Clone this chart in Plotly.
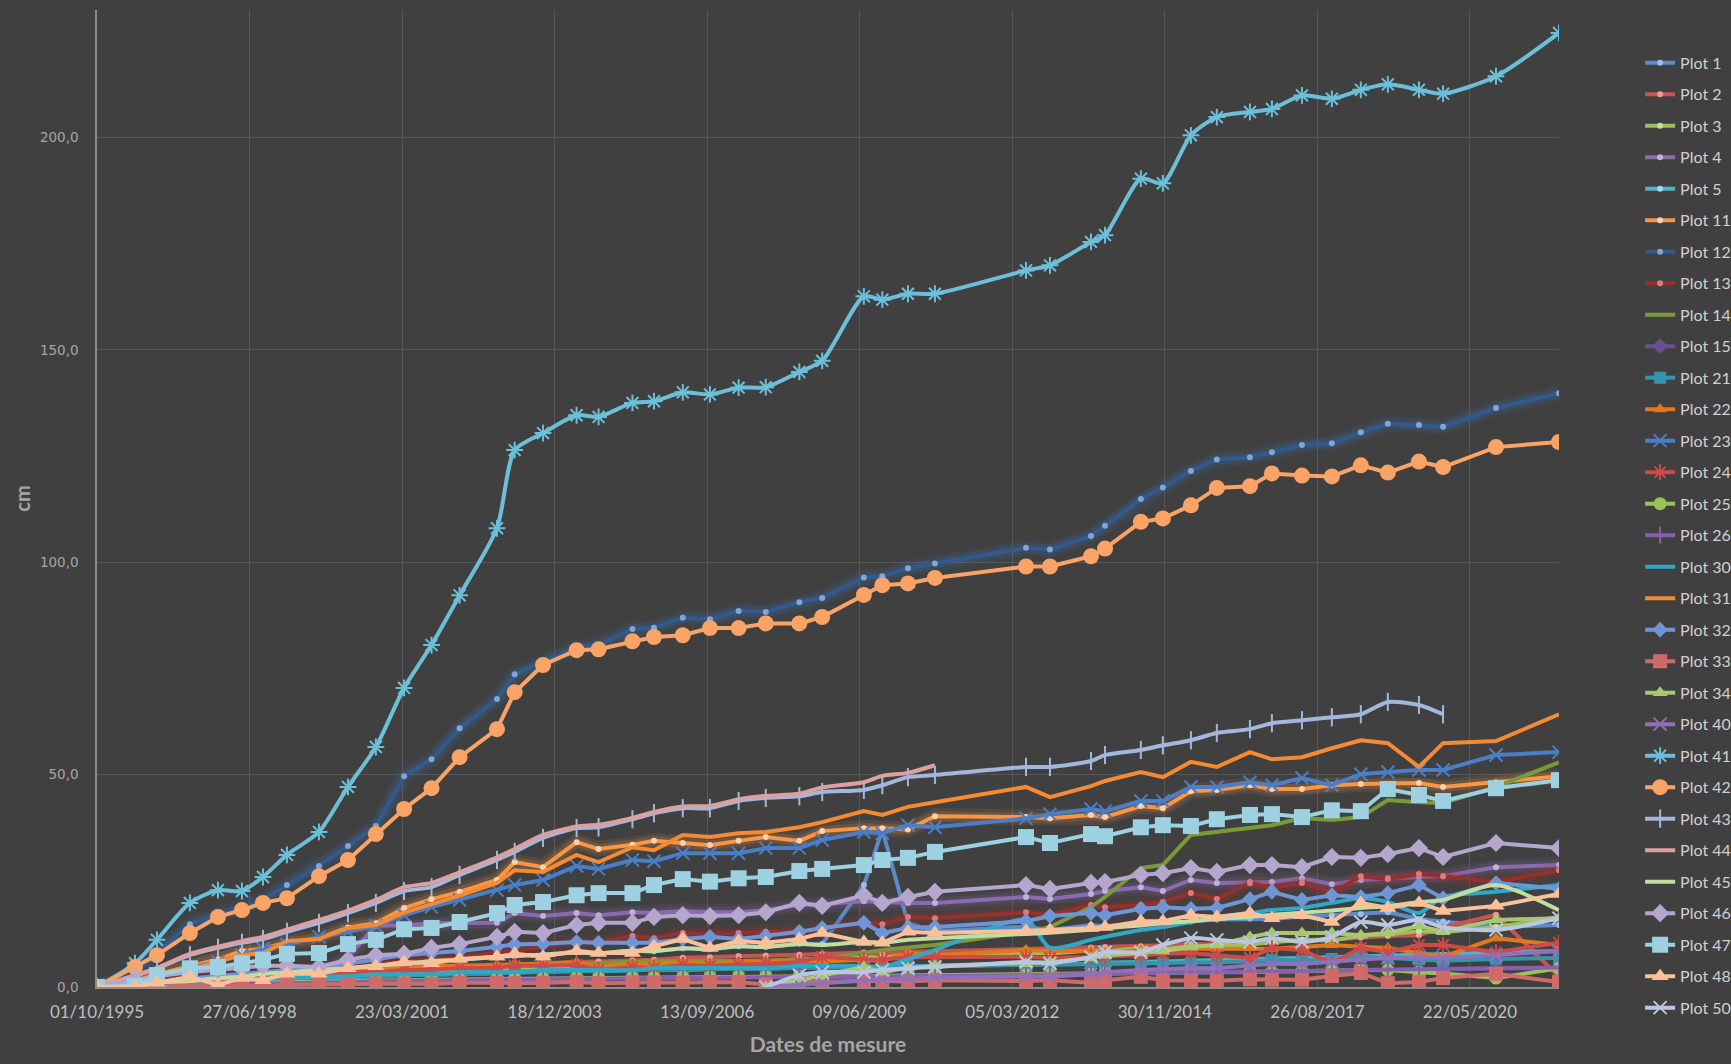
import plotly.graph_objects as go

# ---------------- data ----------------
dates = ["1995-10-01", "1996-06-06", "1996-10-28", "1997-06-01", "1997-12-02", "1998-05-08",
         "1998-09-23", "1999-02-27", "1999-09-25", "2000-04-02", "2000-10-02", "2001-04-05",
         "2001-10-02", "2002-04-04", "2002-12-05", "2003-03-31", "2003-10-03", "2004-05-10",
         "2004-10-01", "2005-05-11", "2005-09-29", "2006-04-06", "2006-10-01", "2007-04-07",
         "2007-10-02", "2008-05-09", "2008-10-06", "2009-07-06", "2009-11-04", "2010-04-21",
         "2010-10-15", "2012-06-03", "2012-11-07", "2013-08-03", "2013-11-03", "2014-06-26",
         "2014-11-17", "2015-05-20", "2015-11-06", "2016-06-10", "2016-11-01", "2017-05-17",
         "2017-11-29", "2018-06-07", "2018-12-01", "2019-06-23", "2019-11-28", "2020-11-09",
         "2021-12-27"]

tick_dates = ["1995-10-01", "1998-06-27", "2001-03-23", "2003-12-18", "2006-09-13",
              "2009-06-09", "2012-03-05", "2014-11-30", "2017-08-26", "2020-05-22"]
tick_labels = ["01/10/1995", "27/06/1998", "23/03/2001", "18/12/2003", "13/09/2006",
               "09/06/2009", "05/03/2012", "30/11/2014", "26/08/2017", "22/05/2020"]
y_ticks = [0, 50, 100, 150, 200]
y_tick_labels = ["0,0", "50,0", "100,0", "150,0", "200,0"]

N = None
plot_1 = [0, 0.5, 1.2, 1.6, 2.3, 2.6, 3.1, 3.8, 4.0, 4.6, 5.2, 5.4, 6.1, 6.5, 7.0, 7.2, 7.6, 8.1, 7.9,
          8.6, 8.4, 9.1, 8.9, 9.6, 9.4, 10.2, 10.1, 24.0, 37.0, 15.0, 13.1, 14.2, 13.4, 14.6, 14.3,
          15.1, 15.3, 15.4, 15.9, 16.1, 16.0, 16.6, 16.9, 17.1, 17.6, 16.0, 15.4, 14.1, 14.6]
plot_2 = [0, 0.6, 1.1, 1.4, 2.1, 2.4, 3.0, 3.3, 3.4, 3.9, 4.1, 4.2, 4.6, 4.7, 5.1, 5.3, 5.4, 5.9, 6.0,
          6.3, 6.4, 6.9, 7.0, 7.3, 7.4, 7.6, 7.8, 8.1, 7.9, 8.3, 8.4, 8.9, 9.0, 9.3, 9.4, 9.6, 9.8,
          10.1, 10.2, 10.6, 10.7, 11.1, 11.2, 11.6, 12.0, 12.2, 14.0, 17.0, 2.4]
plot_3 = [0, 0.4, 0.9, 1.1, 1.4, 2.0, 2.1, 2.4, 2.6, 3.1, 2.9, 3.6, 3.4, 4.1, 3.9, 4.6, 4.4, 5.1, 4.9,
          5.0, 5.6, 5.4, 6.1, 5.9, 6.0, 6.6, 6.4, 7.1, 6.9, 7.6, 7.4, 8.1, 7.9, 8.6, 8.4, 9.1, 8.9,
          9.6, 9.4, 10.1, 10.4, 11.1, 10.9, 12.1, 12.4, 13.1, 12.9, 14.1, 16.5]
plot_4 = [0, 0.5, 1.0, 1.5, 2.0, 2.0, 2.5, 3.0, 3.0, 7.0, 14.5, 14.5, 15.0, 15.0, 15.1, 17.4, 16.7,
          17.4, 16.9, 17.6, 17.4, 17.9, 17.6, 17.6, 18.1, 19.3, 19.5, 20.2, 20.0, 19.8, 19.8, 21.2,
          20.7, 21.9, 22.6, 23.5, 22.6, 25.2, 24.5, 24.7, 24.7, 25.6, 24.2, 25.2, 25.6, 25.9, 26.1,
          28.2, 28.7]
plot_5 = [0, 0.3, 0.6, 0.9, 1.2, 1.4, 1.7, 1.9, 2.2, 2.3, 2.5, 2.8, 2.9, 3.1, 3.2, 3.5, 3.6, 3.8,
          3.7, 3.9, 4.1, 4.0, 4.2, 4.4, 4.3, 4.5, 4.7, 4.6, 4.8, 5.0, 4.9, 5.2, 5.4, 5.5, 5.7, 5.8,
          6.0, 6.2, 6.4, 6.5, 6.7, 6.8, 7.0, 7.2, 7.4, 7.5, 7.6, 8.0, 8.5]
plot_11 = [0, 1.5, 3.0, 5.0, 6.5, 8.5, 9.0, 10.5, 11.5, 14.0, 15.0, 18.6, 20.7, 22.4, 25.2, 29.4,
           28.2, 34.1, 32.5, 33.5, 34.4, 33.9, 33.4, 34.4, 35.3, 34.4, 36.7, 37.4, 37.4, 37.1, 40.2,
           40.0, 39.7, 40.5, 40.0, 42.6, 42.1, 46.1, 46.4, 47.5, 46.6, 46.6, 47.5, 47.8, 47.8, 48.0,
           47.1, 48.2, 49.6]
plot_12 = [0, 3.0, 8.0, 14.8, 17.0, 18.5, 20.5, 24.0, 28.5, 33.2, 37.9, 49.6, 53.6, 60.9, 67.8, 73.6,
           76.5, 80.0, 80.5, 84.3, 84.6, 86.9, 86.6, 88.5, 88.3, 90.6, 91.6, 96.4, 96.7, 98.6, 99.7,
           103.4, 103.0, 106.2, 108.6, 114.9, 117.6, 121.5, 124.2, 124.7, 125.9, 127.6, 128.0, 130.6,
           132.6, 132.3, 131.9, 136.3, 139.8]
plot_13 = [0, 0.5, 1.0, 1.5, 2.0, 2.5, 3.0, 3.5, 4.0, 5.0, 5.5, 6.0, 6.5, 7.0, 8.0, 8.5, 9.5, 10.8,
           10.4, 12.0, 11.5, 12.7, 12.5, 12.7, 13.0, 13.0, 13.6, 15.3, 14.8, 16.5, 16.2, 17.6, 16.9,
           19.3, 18.8, 19.3, 20.0, 22.1, 20.7, 24.5, 23.3, 24.5, 22.1, 26.1, 25.4, 26.6, 26.1, 24.7,
           27.5]
plot_14 = [0, 0.5, 1.0, 1.5, 2.0, 2.5, 2.6, 3.0, 3.1, 3.5, 4.0, 4.1, 4.5, 4.6, 5.0, 5.1, 5.5, 5.5,
           5.6, 6.0, 6.1, 6.0, 6.2, 6.1, 6.3, 6.5, 6.6, 8.0, 8.7, 9.3, 9.9, 13.0, 14.1, 18.8, 21.2,
           28.0, 28.7, 35.8, 36.5, 37.6, 38.1, 39.8, 39.3, 40.0, 44.0, 43.5, 43.3, 47.1, 52.9]
plot_15 = [0, 0.2, 0.4, 0.6, 0.8, 1.0, 1.1, 1.2, 1.3, 1.4, 1.5, 1.6, 1.7, 1.8, 1.9, 2.0, 2.1, 2.1,
           2.0, 2.2, 2.3, 2.2, 2.4, 2.3, 2.5, 2.4, 2.6, 2.5, 2.7, 2.6, 2.8, 2.8, 2.9, 3.0, 3.1, 3.1,
           3.2, 3.3, 3.4, 3.5, 3.6, 3.7, 3.8, 3.9, 4.0, 4.1, 4.2, 4.3, 4.4]
plot_21 = [0, 0.3, 0.5, 0.8, 1.0, 1.2, 1.5, 1.8, 2.0, 2.2, 2.5, 2.8, 3.0, 3.0, 3.2, 3.5, 3.5, 3.8,
           3.8, 4.0, 4.1, 4.2, 4.2, 4.4, 4.4, 4.5, 4.6, 4.7, 4.7, 4.9, 5.0, 5.2, 5.2, 5.4, 5.4, 5.6,
           5.6, 5.6, 5.8, 6.0, 6.4, 6.2, 6.6, 7.1, 6.8, 6.5, 6.2, 6.6, 6.8]
plot_22 = [0, 0.5, 1.0, 1.5, 2.0, 2.5, 3.0, 3.5, 4.0, 4.0, 4.5, 4.5, 5.0, 5.0, 5.2, 5.5, 5.5, 5.9,
           4.7, 5.5, 5.5, 5.9, 5.5, 5.9, 5.9, 5.9, 6.0, 6.4, 6.2, 8.0, 7.5, 8.7, 8.5, 8.5, 8.0, 8.7,
           8.5, 9.0, 9.0, 9.2, 9.0, 9.4, 9.9, 9.5, 9.2, 8.0, 7.1, 11.5, 9.9]
plot_23 = [0, 1.2, 2.5, 4.5, 6.0, 7.5, 9.0, 10.0, 11.8, 13.0, 14.4, 16.9, 18.8, 20.5, 22.8, 24.0,
           25.2, 28.5, 27.8, 29.9, 29.6, 31.5, 31.5, 31.5, 32.7, 32.7, 34.6, 36.5, 36.2, 38.1, 37.6,
           39.7, 40.7, 41.9, 41.4, 43.8, 43.8, 47.1, 47.1, 48.2, 47.5, 49.2, 47.5, 50.1, 50.6, 51.1,
           51.1, 54.6, 55.3]
plot_24 = [0, 0.5, 1.0, 1.5, 2.0, 2.5, 2.5, 3.0, 3.0, 3.5, 3.5, 4.0, 4.0, 4.5, 4.5, 5.0, 5.0, 5.2,
           4.0, 4.7, 4.5, 5.2, 5.0, 5.2, 5.5, 5.9, 7.1, 6.5, 6.5, 7.0, 7.0, 7.1, 6.8, 7.1, 7.1, 7.5,
           7.8, 8.0, 7.5, 6.8, 9.2, 8.7, 5.6, 9.2, 8.2, 9.9, 9.9, 8.2, 10.4]
plot_25 = [0, 0.2, 0.4, 0.6, 0.8, 1.0, 1.0, 1.2, 1.2, 1.4, 1.5, 1.6, 1.7, 1.8, 1.9, 2.0, 2.0, 2.1,
           2.1, 2.2, 2.2, 2.3, 2.3, 2.4, 2.4, 2.5, 2.5, 2.6, 2.6, 2.7, 2.8, 2.9, 3.0, 3.0, 3.2, 3.3,
           3.3, 3.4, 3.5, 3.6, 3.6, 3.7, 3.8, 4.0, 4.0, 3.5, 3.2, 2.1, 4.4]
plot_26 = [0, 0.2, 0.3, 0.5, 0.6, 0.8, 0.9, 1.0, 1.1, 1.2, 1.3, 1.4, 1.5, 1.6, 1.7, 1.8, 1.9, 2.0,
           2.0, 2.1, 2.1, 2.2, 2.2, 2.3, 2.3, 2.4, 2.4, 2.5, 2.5, 2.6, 2.6, 2.8, 2.9, 3.0, 3.1, 3.2,
           3.3, 3.4, 3.5, 3.6, 3.7, 3.8, 3.9, 4.0, 4.1, 4.2, 4.3, 4.5, 4.6]
plot_30 = [0, 0.5, 1.0, 1.0, 1.5, 1.5, 2.0, 2.0, 2.5, 2.5, 3.0, 3.0, 3.0, 3.5, 3.5, 3.5, 4.0, 4.0,
           4.0, 4.0, 4.5, 4.5, 4.5, 4.5, 4.5, 5.0, 5.0, 5.0, 4.7, 6.5, 8.7, 15.8, 9.2, 11.1, 11.8,
           13.4, 14.1, 15.3, 16.5, 17.4, 18.1, 18.6, 19.8, 20.9, 20.0, 17.4, 21.2, 22.4, 24.0]
plot_31 = [0, 1.0, 2.5, 4.0, 6.0, 7.5, 8.0, 10.8, 11.3, 13.9, 14.6, 17.5, 19.5, 21.5, 24.5, 27.5,
           27.1, 31.1, 29.4, 32.9, 32.2, 35.8, 35.3, 36.2, 36.5, 37.6, 38.8, 41.4, 40.5, 42.4, 43.5,
           47.1, 44.7, 47.3, 48.5, 50.6, 49.4, 53.0, 51.8, 55.3, 53.6, 54.1, 56.2, 58.1, 57.4, 51.8,
           57.4, 57.9, 64.2]
plot_32 = [0, 0.5, 1.0, 2.0, 2.5, 3.0, 3.5, 4.0, 4.5, 5.5, 6.5, 7.5, 8.0, 8.5, 9.5, 10.0, 10.2, 10.6,
           10.4, 10.4, 10.4, 11.3, 11.8, 11.3, 12.0, 13.0, 13.9, 15.1, 12.7, 13.9, 14.1, 15.5, 16.7,
           17.4, 16.9, 18.4, 18.8, 18.4, 18.6, 20.7, 22.4, 20.5, 21.6, 21.2, 22.1, 24.0, 20.9, 24.5,
           23.1]
plot_33 = [0, 0, 0, 0.4, 0.1, 0.3, 0.2, 0.5, 0.6, 0.5, 0.8, 0.8, 0.7, 1.0, 1.0, 0.9, 1.0, 1.2, 0.9,
           1.1, 1.1, 1.0, 1.2, 1.1, 0.6, 1.3, 1.2, 1.5, 1.4, 1.3, 1.6, 1.4, 1.6, 1.0, 1.6, 2.4, 1.6,
           1.6, 1.5, 1.8, 1.7, 1.7, 2.6, 3.3, 0.9, 1.2, 2.1, 3.1, 1.2]
plot_34 = [N] * 24 + [0, 1.6, 2.5, 4.7, 3.5, 4.5, 5.0, 5.5, 5.8, 6.8, 7.5, 8.0, 8.5, 9.4, 9.9, 11.8,
                      12.7, 12.7, 12.7, 12.2, 12.7, 14.4, 13.0, 15.8, 16.2]
plot_40 = [N] * 24 + [0, 0.5, 1.0, 1.5, 1.8, 2.0, 2.2, 2.5, 2.4, 3.0, 3.5, 4.0, 4.2, 4.5, 4.4, 5.0,
                      5.5, 5.4, 6.0, 6.5, 6.8, 7.0, 6.9, 7.5, 8.5]
plot_41 = [0, 5.6, 11.1, 19.8, 22.8, 22.6, 25.9, 31.1, 36.5, 47.1, 56.5, 70.4, 80.5, 92.2, 108.0,
           126.4, 130.4, 134.6, 134.2, 137.5, 137.9, 140.0, 139.5, 141.1, 141.2, 144.8, 147.4, 162.6,
           161.8, 163.2, 163.2, 168.7, 169.9, 175.4, 177.0, 190.3, 189.2, 200.5, 204.8, 206.0, 206.7,
           209.9, 209.1, 211.2, 212.5, 211.2, 210.3, 214.4, 224.6]
plot_42 = [0, 4.7, 7.5, 12.7, 16.5, 18.1, 19.8, 20.9, 26.1, 29.9, 36.0, 41.9, 46.8, 54.1, 60.7, 69.4,
           75.8, 79.3, 79.5, 81.4, 82.4, 82.8, 84.5, 84.5, 85.6, 85.6, 87.1, 92.3, 94.6, 95.0, 96.3,
           99.0, 99.0, 101.4, 103.2, 109.5, 110.3, 113.4, 117.5, 117.9, 120.9, 120.4, 120.2, 122.8,
           121.1, 123.7, 122.4, 127.1, 128.3]
plot_43 = [0, 2.8, 4.4, 7.5, 9.2, 10.4, 11.3, 13.0, 15.1, 17.4, 19.8, 22.6, 23.5, 26.4, 29.9, 31.8,
           35.1, 37.4, 37.6, 39.5, 40.9, 42.1, 42.1, 43.8, 44.5, 44.9, 45.9, 46.4, 47.5, 49.4, 49.9,
           51.8, 51.8, 53.2, 54.6, 55.8, 56.9, 58.1, 59.8, 60.7, 62.1, 62.8, 63.5, 64.2, 67.1, 66.4,
           64.2, N, N]
plot_44 = [0, 2.5, 4.5, 7.8, 9.5, 10.8, 11.8, 13.5, 15.8, 18.0, 20.5, 23.5, 24.5, 27.0, 30.5, 32.5,
           35.8, 37.8, 38.2, 39.8, 41.2, 42.5, 42.6, 44.2, 45.0, 45.5, 47.0, 48.2, 49.7, 50.4, 52.2] + [N] * 18
plot_45 = [0, 0.5, 1.1, 1.4, 2.1, 2.4, 3.1, 3.4, 4.1, 4.4, 5.1, 5.4, 6.1, 6.4, 7.1, 7.4, 7.6, 8.1,
           7.9, 8.6, 8.4, 9.1, 8.9, 9.6, 9.4, 10.1, 9.9, 10.6, 10.4, 11.1, 11.5, 12.5, 12.8, 13.5,
           13.8, 14.5, 15.0, 15.5, 16.0, 16.5, 17.0, 17.5, 18.0, 18.6, 19.0, 20.0, 20.5, 24.0, 18.1]
plot_46 = [0, 1.5, 2.5, 3.5, 4.0, 4.5, 5.0, 5.0, 4.7, 6.4, 7.5, 7.8, 9.2, 10.1, 11.8, 13.0, 12.7,
           14.6, 15.1, 15.1, 16.5, 16.9, 16.7, 16.9, 17.6, 19.8, 19.1, 21.6, 19.8, 21.2, 22.4, 24.0,
           23.1, 24.5, 24.7, 26.4, 26.8, 28.0, 27.1, 28.7, 28.7, 28.2, 30.6, 30.4, 31.3, 32.7, 30.6,
           33.9, 32.7]
plot_47 = [0, 0.3, 2.8, 4.4, 4.7, 5.6, 6.4, 7.8, 8.0, 10.1, 11.1, 13.6, 13.9, 15.3, 17.4, 19.3, 20.0,
           21.6, 22.1, 22.1, 24.0, 25.4, 24.8, 25.6, 25.9, 27.3, 27.8, 28.7, 29.9, 30.4, 31.8, 35.3,
           33.9, 36.0, 35.5, 37.6, 38.1, 37.9, 39.5, 40.5, 40.7, 40.0, 41.6, 41.4, 46.6, 45.2, 43.8,
           46.8, 48.7]
plot_48 = [0, 0, 1.0, 2.4, 0.5, 2.1, 1.6, 3.1, 3.1, 4.4, 4.9, 5.9, 5.6, 6.6, 7.1, 7.8, 7.1, 8.5, 8.0,
           8.0, 9.6, 11.3, 9.2, 10.8, 10.4, 11.3, 12.7, 10.6, 10.4, 13.0, 12.7, 13.2, 13.4, 13.9, 14.1,
           15.5, 15.5, 16.9, 16.5, 17.4, 16.2, 16.9, 15.3, 19.8, 18.6, 19.8, 17.9, 19.1, 21.9]
plot_50 = [N] * 24 + [0, 2.8, 3.5, 3.5, 4.0, 4.4, 4.7, 5.9, 5.6, 7.1, 8.2, 8.2, 9.9, 11.5, 11.1, 10.6,
                      11.5, 10.6, 11.8, 15.3, 14.6, 15.8, 14.1, 13.4, 16.2]

series_names = ["Plot 1", "Plot 2", "Plot 3", "Plot 4", "Plot 5", "Plot 11", "Plot 12", "Plot 13",
                "Plot 14", "Plot 15", "Plot 21", "Plot 22", "Plot 23", "Plot 24", "Plot 25", "Plot 26",
                "Plot 30", "Plot 31", "Plot 32", "Plot 33", "Plot 34", "Plot 40", "Plot 41", "Plot 42",
                "Plot 43", "Plot 44", "Plot 45", "Plot 46", "Plot 47", "Plot 48", "Plot 50"]
series_values = [plot_1, plot_2, plot_3, plot_4, plot_5, plot_11, plot_12, plot_13, plot_14, plot_15,
                 plot_21, plot_22, plot_23, plot_24, plot_25, plot_26, plot_30, plot_31, plot_32,
                 plot_33, plot_34, plot_40, plot_41, plot_42, plot_43, plot_44, plot_45, plot_46,
                 plot_47, plot_48, plot_50]

# ---------------- styles ----------------
# (line colour, marker symbol, marker size, marker colour, smoothed, glow)
styles = {
    "Plot 1": ("#5B8CC8", "circle", 6, "#9DBCE6", False, None),
    "Plot 2": ("#C85450", "circle", 6, "#E89A97", False, None),
    "Plot 3": ("#9DBF5C", "circle", 6, "#C9E09D", False, None),
    "Plot 4": ("#8A6BAE", "circle", 6, "#C3B0DA", False, "#8A6BAE"),
    "Plot 5": ("#4FB3CC", "circle", 6, "#9CD8E6", False, None),
    "Plot 11": ("#F79646", "circle", 6, "#FCD0A8", False, "#F79646"),
    "Plot 12": ("#34598C", "circle", 6, "#7FA6D8", False, "#3F74B8"),
    "Plot 13": ("#94302E", "circle", 6, "#E07A78", False, "#A0302E"),
    "Plot 14": ("#7A9A3A", None, 0, None, False, None),
    "Plot 15": ("#6A4F8E", "diamond", 12, "#6A4F8E", False, None),
    "Plot 21": ("#3494AE", "square", 12, "#3494AE", False, None),
    "Plot 22": ("#E0781E", "triangle-up", 12, "#E0781E", False, None),
    "Plot 23": ("#4A7EC6", "x-thin-open", 13, "#4A7EC6", False, None),
    "Plot 24": ("#CB4B48", "asterisk-open", 13, "#CB4B48", False, None),
    "Plot 25": ("#9BC255", "circle", 13, "#9BC255", False, None),
    "Plot 26": ("#8460AE", "line-ns-open", 12, "#8460AE", False, None),
    "Plot 30": ("#2FA8C8", None, 0, None, True, None),
    "Plot 31": ("#F58A32", None, 0, None, False, None),
    "Plot 32": ("#6E96D6", "diamond", 12, "#6E96D6", False, None),
    "Plot 33": ("#D06A68", "square", 14, "#D06A68", False, None),
    "Plot 34": ("#A8C870", "triangle-up", 13, "#A8C870", False, None),
    "Plot 40": ("#9070B8", "x-thin-open", 13, "#9070B8", False, None),
    "Plot 41": ("#6CBFD8", "asterisk-open", 14, "#6CBFD8", True, None),
    "Plot 42": ("#F9A466", "circle", 16, "#F9A466", False, None),
    "Plot 43": ("#A3B6DE", "line-ns-open", 13, "#A3B6DE", True, None),
    "Plot 44": ("#DBA0A0", None, 0, None, True, None),
    "Plot 45": ("#C3DCA0", None, 0, None, True, None),
    "Plot 46": ("#B5A6CE", "diamond", 14, "#B5A6CE", False, None),
    "Plot 47": ("#9DD0E0", "square", 16, "#9DD0E0", False, None),
    "Plot 48": ("#FAC09A", "triangle-up", 15, "#FAC09A", False, None),
    "Plot 50": ("#BAC6E2", "x-thin-open", 13, "#BAC6E2", True, None),
}

fig = go.Figure()

for name, vals in zip(series_names, series_values):
    color, symbol, msize, mcolor, smooth, glow = styles[name]
    shape = "spline" if smooth else "linear"
    if glow:
        for w, op in ((16, 0.10), (10, 0.16)):
            fig.add_trace(go.Scatter(
                x=dates, y=vals, mode="lines", legendgroup=name, showlegend=False,
                hoverinfo="skip", opacity=op,
                line=dict(color=glow, width=w, shape=shape, smoothing=0.7)))
    if symbol:
        open_sym = symbol.endswith("-open")
        marker = dict(symbol=symbol, size=msize, color=mcolor,
                      line=dict(width=2 if open_sym else 0, color=mcolor))
        mode = "lines+markers"
    else:
        marker = None
        mode = "lines"
    fig.add_trace(go.Scatter(
        x=dates, y=vals, name=name, mode=mode, legendgroup=name,
        line=dict(color=color, width=4, shape=shape, smoothing=0.7),
        marker=marker))

BG = "#404040"
GRID = "#575757"
fig.update_layout(
    width=1731, height=1064,
    paper_bgcolor=BG, plot_bgcolor=BG,
    margin=dict(l=97, r=172, t=10, b=77, autoexpand=False),
    font=dict(family="Lato, Open Sans, sans-serif", color="#BFBFBF"),
    legend=dict(
        xref="container", yref="container", x=0.9475, y=0.957,
        xanchor="left", yanchor="top",
        traceorder="grouped", tracegroupgap=7.7,
        font=dict(family="Lato", size=16, color="#D0D0D0"),
        bgcolor="rgba(0,0,0,0)", itemwidth=30, maxheight=1.0,
    ),
    showlegend=True,
)
fig.update_xaxes(
    type="date", range=[dates[0], dates[-1]],
    tickmode="array", tickvals=tick_dates, ticktext=tick_labels,
    tickfont=dict(family="Lato", size=17, color="#BFBFBF"),
    showgrid=True, gridcolor=GRID, gridwidth=1,
    showline=True, linecolor="#8C8C8C", linewidth=1.5,
    ticks="", ticklabelstandoff=9,
    title=dict(text="<b>Dates de mesure</b>", standoff=16,
               font=dict(family="Lato", size=21, color="#A6A6A6")),
)
fig.update_yaxes(
    range=[0, 230], tickmode="array", tickvals=y_ticks, ticktext=y_tick_labels,
    tickfont=dict(family="DejaVu Sans", size=13.5, color="#A6A6A6"),
    showgrid=True, gridcolor=GRID, gridwidth=1, zeroline=False,
    showline=True, linecolor="#8C8C8C", linewidth=1.5,
    ticks="", ticklabelstandoff=14,
    title=dict(text="<b>cm</b>", standoff=4,
               font=dict(family="Lato", size=20, color="#A6A6A6")),
)

fig.write_html("out.html", config={"displayModeBar": False},
               post_script="document.body.style.margin='0';document.body.style.background='#404040';")
